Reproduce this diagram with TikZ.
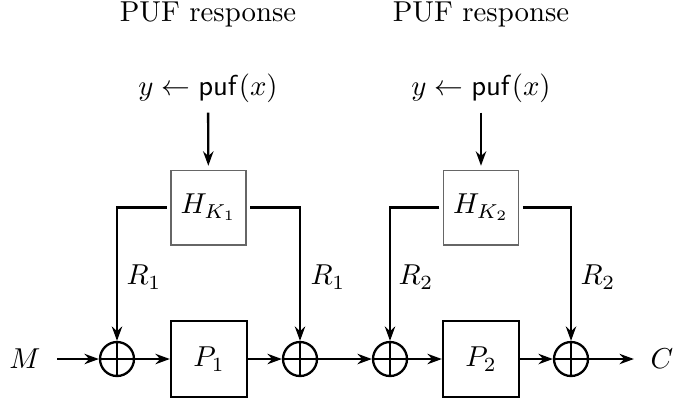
\documentclass[tikz,border=0pt]{standalone}
\usetikzlibrary{arrows.meta}
\begin{document}
\begin{tikzpicture}[x=0.0122cm, y=-0.0122cm,
  arr/.style={thick, -{Stealth[length=5pt, width=3.6pt]}},
  pbox/.style={draw, thick, minimum width=26.4pt, minimum height=26.4pt, inner sep=0pt},
  hbox/.style={draw=black!60, thin, minimum width=26pt, minimum height=26pt, inner sep=0pt, outer sep=1.5pt},
  xorc/.style={circle, draw, thick, minimum size=11.8pt, inner sep=0pt, path picture={
      \draw[thick] (path picture bounding box.north) -- (path picture bounding box.south)
                   (path picture bounding box.west) -- (path picture bounding box.east);}},
  term/.style={outer sep=2.5pt}
]
\useasboundingbox (0,0) rectangle (673,403);

\node (resp1) at (208,14) {PUF response};
\node (resp2) at (481,14) {PUF response};
\node (puf1) at (208,88) {$y \leftarrow \mathsf{puf}(x)$};
\node (puf2) at (481,88) {$y \leftarrow \mathsf{puf}(x)$};

\node[hbox] (H1) at (208.5,207.5) {$H_{K_1}$};
\node[hbox] (H2) at (481,207.5) {$H_{K_2}$};

\node[pbox] (P1) at (209,359) {$P_1$};
\node[pbox] (P2) at (481,359) {$P_2$};

\node[xorc] (X1) at (117,359) {};
\node[xorc] (X2) at (300,359) {};
\node[xorc] (X3) at (390,359) {};
\node[xorc] (X4) at (571,359) {};

\node[term] (M) at (25,359) {$M$};
\node[term] (C) at (662,359) {$C$};

\node (R1a) at (144,277) {$R_1$};
\node (R1b) at (328,277) {$R_1$};
\node (R2a) at (416,277) {$R_2$};
\node (R2b) at (598,277) {$R_2$};

\draw[arr] (puf1) -- (H1);
\draw[arr] (puf2) -- (H2);

\draw[arr] (H1.west) -| (X1);
\draw[arr] (H1.east) -| (X2);
\draw[arr] (H2.west) -| (X3);
\draw[arr] (H2.east) -| (X4);

\draw[arr] (M) -- (X1);
\draw[arr] (X1) -- (P1);
\draw[arr] (P1) -- (X2);
\draw[arr] (X2) -- (X3);
\draw[arr] (X3) -- (P2);
\draw[arr] (P2) -- (X4);
\draw[arr] (X4) -- (C);
\end{tikzpicture}
\end{document}
